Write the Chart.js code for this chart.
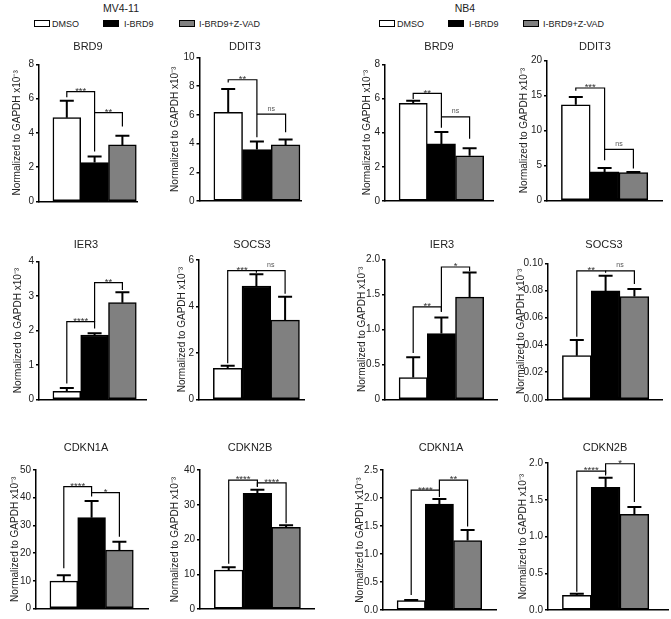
<!DOCTYPE html>
<html>
<head>
<meta charset="utf-8">
<script src="https://cdn.jsdelivr.net/npm/chart.js@4.4.1/dist/chart.umd.min.js"></script>
<style>
  body { margin: 0; background: #fff; font-family: "Liberation Sans", Arial, Helvetica, sans-serif; }
  #fig { position: relative; width: 671px; height: 619px; overflow: hidden; }
  canvas { position: absolute; }
  .txt { position: absolute; white-space: nowrap; color: #222; line-height: 1; }
  .box { position: absolute; border: 1.2px solid #000; box-sizing: border-box; }
</style>
</head>
<body>
<div id="fig"></div>
<script>
const groups = ['DMSO', 'I-BRD9', 'I-BRD9+Z-VAD'];
const genes = ['BRD9', 'DDIT3', 'IER3', 'SOCS3', 'CDKN1A', 'CDKN2B'];
const barColors = ['#ffffff', '#000000', '#808080'];

// normalized to GAPDH x10^-3, one row per gene, columns follow groups
const mv4Mean = [
  [4.89, 2.27, 3.30],
  [6.18, 3.59, 3.91],
  [0.23, 1.87, 2.81],
  [1.33, 4.88, 3.41],
  [9.9, 32.8, 21.1],
  [11.2, 33.3, 23.5]
];
const mv4Err = [
  [0.99, 0.35, 0.54],
  [1.62, 0.55, 0.37],
  [0.10, 0.05, 0.30],
  [0.12, 0.51, 1.01],
  [2.1, 6.0, 3.0],
  [0.8, 1.0, 0.6]
];
const nb4Mean = [
  [5.72, 3.34, 2.65],
  [13.67, 4.08, 3.98],
  [0.31, 0.94, 1.46],
  [0.0321, 0.0797, 0.0755],
  [0.167, 1.89, 1.24],
  [0.20, 1.67, 1.30]
];
const nb4Err = [
  [0.15, 0.70, 0.43],
  [1.10, 0.57, 0.10],
  [0.29, 0.23, 0.35],
  [0.0115, 0.0112, 0.0056],
  [0.013, 0.09, 0.19],
  [0.02, 0.13, 0.10]
];

// y tick labels per gene
const mv4Ticks = [
  ['0', '2', '4', '6', '8'],
  ['0', '2', '4', '6', '8', '10'],
  ['0', '1', '2', '3', '4'],
  ['0', '2', '4', '6'],
  ['0', '10', '20', '30', '40', '50'],
  ['0', '10', '20', '30', '40']
];
const nb4Ticks = [
  ['0', '2', '4', '6', '8'],
  ['0', '5', '10', '15', '20'],
  ['0', '0.5', '1.0', '1.5', '2.0'],
  ['0.00', '0.02', '0.04', '0.06', '0.08', '0.10'],
  ['0.0', '0.5', '1.0', '1.5', '2.0', '2.5'],
  ['0.0', '0.5', '1.0', '1.5', '2.0']
];

// significance: [from group, to group, bar level, left leg end, right leg end]
const mv4Stars = [['***', '**'], ['**', 'ns'], ['****', '**'], ['***', 'ns'], ['****', '*'], ['****', '****']];
const nb4Stars = [['**', 'ns'], ['***', 'ns'], ['**', '*'], ['**', 'ns'], ['****', '**'], ['****', '*']];
const mv4Sig = [
  [[0, 1, 6.41, 6.08, 2.91], [1, 2, 5.18, 5.18, 4.37]],
  [[0, 1, 8.45, 8.26, 4.44], [1, 2, 6.06, 6.06, 4.79]],
  [[0, 1, 2.26, 0.46, 2.06], [1, 2, 3.39, 2.26, 3.18]],
  [[0, 1, 5.54, 1.55, 5.45], [1, 2, 5.54, 5.54, 4.55]],
  [[0, 1, 44.0, 14.5, 40.4], [1, 2, 41.8, 41.8, 25.9]],
  [[0, 1, 37.1, 13.0, 35.2], [1, 2, 36.3, 35.2, 24.7]]
];
const nb4Sig = [
  [[0, 1, 6.30, 5.97, 4.29], [1, 2, 4.92, 4.92, 3.65]],
  [[0, 1, 16.07, 15.68, 5.76], [1, 2, 7.29, 7.29, 4.56]],
  [[0, 1, 1.32, 0.66, 1.25], [1, 2, 1.89, 1.25, 1.83]],
  [[0, 1, 0.0944, 0.046, 0.093], [1, 2, 0.0944, 0.0944, 0.0848]],
  [[0, 1, 2.14, 0.27, 2.02], [1, 2, 2.32, 2.14, 1.49]],
  [[0, 1, 1.89, 0.25, 1.83], [1, 2, 1.99, 1.85, 1.47]]
];

// panel placement: [axis x, top px, zero px, y title x, x max, title centre, bar width]
const mv4Pos = [
  [39, 64.3, 201.5, 17, 3.53, 88, 27.8],
  [199.5, 57.5, 201, 175, 3.57, 245, 28.7],
  [39, 261.7, 399.3, 18, 3.88, 86, 27.8],
  [199, 260, 399.3, 182, 3.69, 252, 28.7],
  [36, 470, 608.5, 15, 4.03, 86, 27.8],
  [200, 470, 609, 175, 4.0, 250, 28.7]
];
const nb4Pos = [
  [385, 64.3, 201, 367, 3.83, 439, 28.2],
  [547, 60.5, 200.5, 524, 4.0, 595, 28.8],
  [385, 259.3, 399.3, 362, 4.0, 442, 28.2],
  [548, 263.3, 399.3, 521, 3.96, 604, 28.8],
  [383, 470, 610, 360, 4.04, 441, 28.2],
  [548, 463, 610, 523, 4.17, 605, 28.8]
];
const rowTitleY = [47, 245, 448];

const FONT = '"Liberation Sans", Arial, Helvetica, sans-serif';
Chart.defaults.font.family = FONT;
const fig = document.getElementById('fig');

function addText(str, x, y, size, align) {
  const d = document.createElement('div');
  d.className = 'txt';
  d.textContent = str;
  d.style.fontSize = size + 'px';
  d.style.left = x + 'px';
  d.style.top = y + 'px';
  d.style.transform = align === 'center' ? 'translate(-50%,-50%)' : 'translate(0,-50%)';
  fig.appendChild(d);
}

function addBox(x, y, color) {
  const b = document.createElement('div');
  b.className = 'box';
  b.style.left = x + 'px';
  b.style.top = y + 'px';
  b.style.width = '16px';
  b.style.height = '7px';
  b.style.background = color;
  fig.appendChild(b);
}

// headers and legends
addText('MV4-11', 121, 8, 10.5, 'center');
addText('NB4', 465, 8, 10.5, 'center');
[[34, 52], [103, 124], [179, 199]].forEach((p, i) => {
  addBox(p[0], 20, barColors[i]);
  addText(groups[i], p[1], 23.5, 9, 'left');
});
[[379, 397], [448, 469], [523, 543]].forEach((p, i) => {
  addBox(p[0], 20, barColors[i]);
  addText(groups[i], p[1], 23.5, 9, 'left');
});

function makePanel(gene, mean, err, ticks, stars, sig, pos, row) {
  const [axisX, topPx, zeroPx, yTitleX, xMax, titleCx, u] = pos;
  const titleY = rowTitleY[row];
  const CL = Math.floor(yTitleX - 10);
  const CT = Math.round(titleY - 12);
  const chartRight = axisX + xMax * u;
  const CW = Math.ceil(chartRight - CL + 3);
  const CH = Math.ceil(zeroPx - CT + 10);
  const pl = yTitleX - 6 - CL;
  const yW = axisX - (yTitleX - 6);

  const cv = document.createElement('canvas');
  cv.width = CW;
  cv.height = CH;
  cv.style.left = CL + 'px';
  cv.style.top = CT + 'px';
  fig.appendChild(cv);

  const tickVals = ticks.map(Number);

  const marks = {
    id: 'marks',
    afterDatasetsDraw(chart) {
      const { ctx, scales: { x, y } } = chart;
      const meta = chart.getDatasetMeta(0);
      ctx.save();
      ctx.strokeStyle = '#000';
      ctx.lineWidth = 2;
      meta.data.forEach((bar, i) => {
        const top = y.getPixelForValue(mean[i] + err[i]);
        ctx.beginPath();
        ctx.moveTo(bar.x, bar.y);
        ctx.lineTo(bar.x, top);
        ctx.moveTo(bar.x - 7, top);
        ctx.lineTo(bar.x + 7, top);
        ctx.stroke();
      });

      ctx.lineWidth = 1.2;
      sig.forEach((s, k) => {
        const xa = x.getPixelForValue(s[0] + 1);
        const xb = x.getPixelForValue(s[1] + 1);
        const yl = y.getPixelForValue(s[2]);
        ctx.beginPath();
        ctx.moveTo(xa, y.getPixelForValue(s[3]));
        ctx.lineTo(xa, yl);
        ctx.lineTo(xb, yl);
        ctx.lineTo(xb, y.getPixelForValue(s[4]));
        ctx.stroke();
        const lab = stars[k];
        ctx.textAlign = 'center';
        ctx.textBaseline = 'alphabetic';
        if (lab === 'ns') {
          ctx.fillStyle = '#555';
          ctx.font = '7px ' + FONT;
          ctx.fillText(lab, (xa + xb) / 2, yl - 3.5);
        } else {
          ctx.fillStyle = '#333';
          ctx.font = '9.5px ' + FONT;
          ctx.fillText(lab, (xa + xb) / 2, yl + 2.4);
        }
      });

      ctx.fillStyle = '#222';
      ctx.font = '11px ' + FONT;
      ctx.textAlign = 'center';
      ctx.textBaseline = 'middle';
      ctx.fillText(gene, titleCx - CL, titleY - CT);
      ctx.restore();
    }
  };

  new Chart(cv, {
    type: 'bar',
    data: {
      datasets: [{
        data: mean.map((v, i) => ({ x: i + 1, y: v })),
        backgroundColor: barColors,
        borderColor: '#000',
        borderWidth: 1.5,
        borderSkipped: false,
        barPercentage: 1,
        categoryPercentage: 1
      }]
    },
    options: {
      responsive: false,
      animation: false,
      devicePixelRatio: 1,
      layout: {
        padding: {
          left: pl,
          top: topPx - CT,
          right: CW - (chartRight - CL),
          bottom: CH - (zeroPx - CT)
        }
      },
      plugins: { legend: { display: false }, tooltip: { enabled: false } },
      scales: {
        x: {
          type: 'linear',
          offset: false,
          min: 0,
          max: xMax,
          afterBuildTicks: s => { s.ticks = [{ value: 1 }, { value: 2 }, { value: 3 }]; },
          afterFit: s => { s.height = 0; },
          ticks: { display: false },
          grid: { display: false, offset: false },
          border: { display: true, color: '#000', width: 1.5 }
        },
        y: {
          position: 'left',
          min: 0,
          max: tickVals[tickVals.length - 1],
          afterBuildTicks: s => { s.ticks = tickVals.map(v => ({ value: v })); },
          afterFit: s => { s.width = yW; },
          ticks: {
            autoSkip: false,
            padding: 2,
            color: '#222',
            font: { size: 10 },
            callback: (v, i) => ticks[i]
          },
          grid: {
            display: true,
            drawOnChartArea: false,
            drawTicks: true,
            tickLength: 3,
            color: '#000',
            lineWidth: 1.5
          },
          border: { display: true, color: '#000', width: 1.5 },
          title: {
            display: true,
            text: 'Normalized to GAPDH x10\u207B\u00B3',
            color: '#222',
            font: { size: 10 },
            padding: 0
          }
        }
      }
    },
    plugins: [marks]
  });
}

genes.forEach((g, i) => {
  const row = Math.floor(i / 2);
  makePanel(g, mv4Mean[i], mv4Err[i], mv4Ticks[i], mv4Stars[i], mv4Sig[i], mv4Pos[i], row);
  makePanel(g, nb4Mean[i], nb4Err[i], nb4Ticks[i], nb4Stars[i], nb4Sig[i], nb4Pos[i], row);
});
</script>
</body>
</html>
